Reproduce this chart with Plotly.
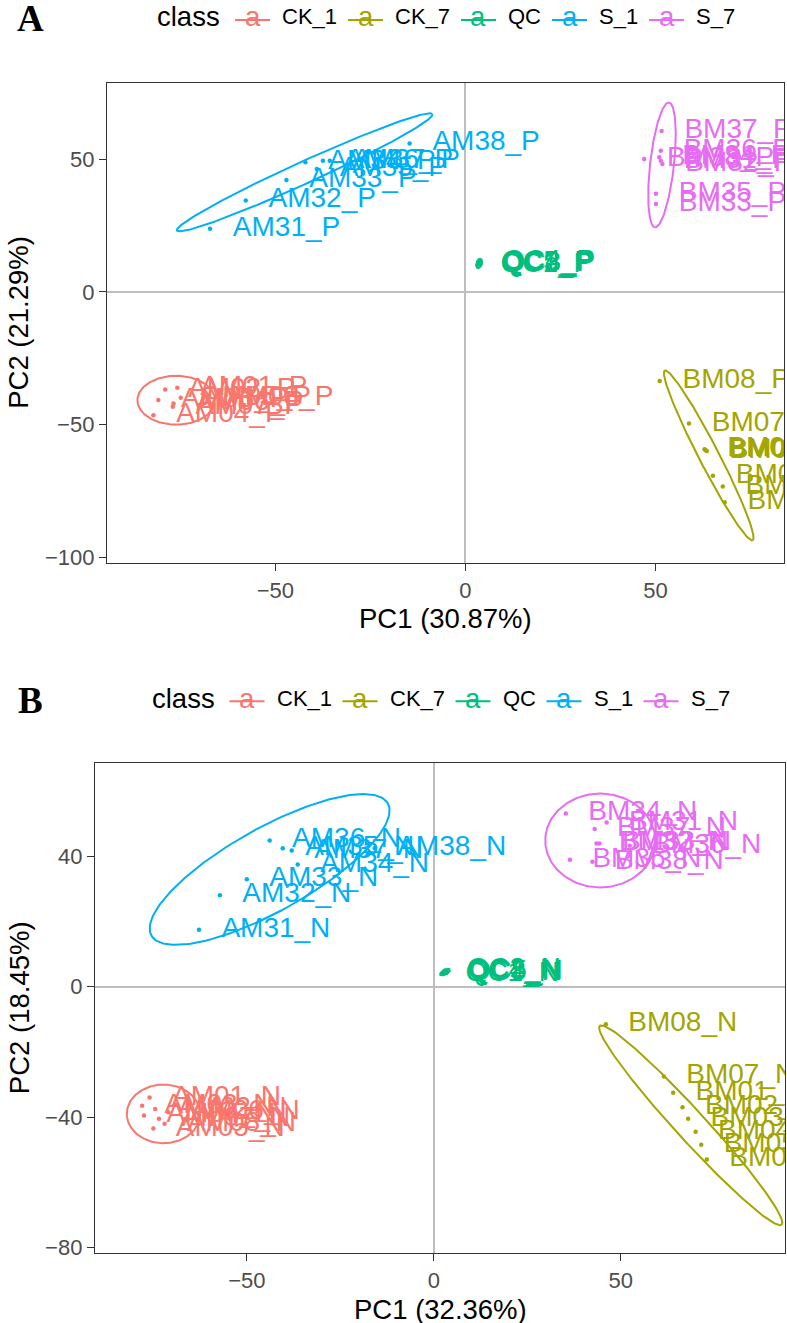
import numpy as np
import plotly.graph_objects as go

W, H = 787, 1323
FONT = "Liberation Sans, Arial, Helvetica, sans-serif"

class_names = ["CK_1", "CK_7", "QC", "S_1", "S_7"]
class_colors = ["#F8766D", "#A3A500", "#00BF7D", "#00B0F6", "#E76BF3"]

# ---------------- Panel A (positive mode, _P) ----------------
a_ck1_lab = ["AM01_P", "AM02_P", "AM03_P", "AM04_P", "AM05_P", "AM06_P", "AM07_P", "AM08_P"]
a_ck1_x = [-75.8, -79.0, -80.8, -82.1, -74.9, -76.8, -77.0, -69.0]
a_ck1_y = [-36.1, -36.8, -40.7, -46.5, -39.9, -42.0, -43.3, -39.9]

a_ck7_lab = ["BM01_P", "BM02_P", "BM03_P", "BM04_P", "BM05_P", "BM06_P", "BM07_P", "BM08_P"]
a_ck7_x = [63.2, 63.5, 62.9, 65.1, 67.7, 68.2, 58.8, 51.1]
a_ck7_y = [-59.6, -59.9, -59.3, -69.2, -73.3, -79.2, -49.6, -33.6]

a_qc_lab = ["QC1_P", "QC2_P", "QC3_P", "QC4_P", "QC5_P"]
a_qc_x = [3.2, 3.6, 4.0, 3.9, 3.4]
a_qc_y = [10.2, 10.9, 10.5, 11.2, 10.8]

a_s1_lab = ["AM31_P", "AM32_P", "AM33_P", "AM34_P", "AM35_P", "AM36_P", "AM37_P", "AM38_P"]
a_s1_x = [-67.2, -57.8, -47.1, -42.1, -39.1, -37.5, -35.7, -14.7]
a_s1_y = [23.8, 34.4, 42.1, 48.8, 46.3, 49.4, 49.4, 55.9]

a_s7_lab = ["BM31_P", "BM32_P", "BM33_P", "BM34_P", "BM35_P", "BM36_P", "BM37_P", "BM38_P"]
a_s7_x = [51.4, 51.8, 50.1, 51.0, 50.1, 51.4, 51.6, 47.0]
a_s7_y = [49.4, 48.1, 33.1, 50.7, 36.9, 53.1, 60.6, 50.0]

# ellipse: centre x, centre y, semi-axis 1 (dx, dy), semi-axis 2 (dx, dy)
a_ell_ck1 = [-76.1, -40.8, 10.2, 0.0, 0.0, 9.2]
a_ell_ck7 = [64.0, -61.6, 11.55, -31.95, 2.34, 1.72]
a_ell_qc = [3.6, 10.7, 0.3, 1.8, 0.7, -0.1]
a_ell_s1 = [-42.3, 45.0, 33.6, 21.9, 1.19, -3.75]
a_ell_s7 = [51.7, 47.8, 1.84, 23.5, 3.12, -0.5]

# ---------------- Panel B (negative mode, _N) ----------------
b_ck1_lab = ["AM01_N", "AM02_N", "AM03_N", "AM04_N", "AM05_N", "AM06_N", "AM07_N", "AM08_N"]
b_ck1_x = [-76.0, -74.5, -78.0, -77.5, -75.0, -71.0, -73.5, -72.0]
b_ck1_y = [-34.0, -37.5, -36.5, -39.5, -43.5, -38.5, -40.5, -42.0]

b_ck7_lab = ["BM01_N", "BM02_N", "BM03_N", "BM04_N", "BM05_N", "BM06_N", "BM07_N", "BM08_N"]
b_ck7_x = [64.0, 66.5, 68.0, 70.0, 71.5, 73.0, 61.5, 46.0]
b_ck7_y = [-32.5, -37.0, -40.5, -44.5, -48.5, -53.0, -27.5, -11.5]

b_qc_lab = ["QC1_N", "QC2_N", "QC3_N", "QC4_N", "QC5_N"]
b_qc_x = [2.5, 3.0, 3.3, 2.8, 3.5]
b_qc_y = [4.0, 5.0, 4.3, 4.7, 4.5]

b_s1_lab = ["AM31_N", "AM32_N", "AM33_N", "AM34_N", "AM35_N", "AM36_N", "AM37_N", "AM38_N"]
b_s1_x = [-62.8, -57.2, -50.0, -36.4, -40.4, -43.9, -38.0, -15.8]
b_s1_y = [17.5, 28.1, 33.0, 37.5, 42.5, 44.9, 41.8, 42.5]

b_s7_lab = ["BM31_N", "BM32_N", "BM33_N", "BM34_N", "BM35_N", "BM36_N", "BM37_N", "BM38_N"]
b_s7_x = [46.2, 43.5, 44.3, 35.3, 36.4, 52.4, 43.0, 42.4]
b_s7_y = [50.4, 44.0, 44.0, 53.2, 39.0, 43.3, 48.4, 38.4]

b_ell_ck1 = [-72.3, -39.0, 9.8, 0.0, 0.0, 9.0]
b_ell_ck7 = [68.7, -42.5, 24.3, -30.5, 2.97, 3.08]
b_ell_qc = [3.0, 4.5, 1.3, 0.8, 0.3, -0.6]
b_ell_s1 = [-43.9, 36.0, 31.6, 20.3, 5.5, -11.1]
b_ell_s7 = [44.5, 44.9, 14.7, 0.0, 0.0, 14.4]

# axis text
a_xtitle, a_ytitle = "PC1 (30.87%)", "PC2 (21.29%)"
b_xtitle, b_ytitle = "PC1 (32.36%)", "PC2 (18.45%)"
a_xticks = [-50, 0, 50]
a_yticks = [-100, -50, 0, 50]
b_xticks = [-50, 0, 50]
b_yticks = [-80, -40, 0, 40]

NUDGE = 6.0  # label offset in PC1 units (like nudge_x)

panels = [
    dict(
        xa="x", ya="y",
        groups=[(a_ck1_x, a_ck1_y, a_ck1_lab, a_ell_ck1),
                (a_ck7_x, a_ck7_y, a_ck7_lab, a_ell_ck7),
                (a_qc_x, a_qc_y, a_qc_lab, a_ell_qc),
                (a_s1_x, a_s1_y, a_s1_lab, a_ell_s1),
                (a_s7_x, a_s7_y, a_s7_lab, a_ell_s7)],
    ),
    dict(
        xa="x2", ya="y2",
        groups=[(b_ck1_x, b_ck1_y, b_ck1_lab, b_ell_ck1),
                (b_ck7_x, b_ck7_y, b_ck7_lab, b_ell_ck7),
                (b_qc_x, b_qc_y, b_qc_lab, b_ell_qc),
                (b_s1_x, b_s1_y, b_s1_lab, b_ell_s1),
                (b_s7_x, b_s7_y, b_s7_lab, b_ell_s7)],
    ),
]

fig = go.Figure()
t = np.linspace(0, 2 * np.pi, 200)
for p in panels:
    for (xs, ys, labs, ell), col in zip(p["groups"], class_colors):
        cx, cy, ax_, ay_, bx_, by_ = ell
        ex = cx + ax_ * np.cos(t) + bx_ * np.sin(t)
        ey = cy + ay_ * np.cos(t) + by_ * np.sin(t)
        fig.add_trace(go.Scatter(x=ex, y=ey, mode="lines", line=dict(color=col, width=2),
                                 xaxis=p["xa"], yaxis=p["ya"], showlegend=False, hoverinfo="skip"))
        fig.add_trace(go.Scatter(x=xs, y=ys, mode="markers", marker=dict(color=col, size=4.5),
                                 xaxis=p["xa"], yaxis=p["ya"], showlegend=False))
        fig.add_trace(go.Scatter(x=[v + NUDGE for v in xs], y=ys, mode="text", text=labs,
                                 textposition="middle right",
                                 textfont=dict(family=FONT, size=28, color=col),
                                 xaxis=p["xa"], yaxis=p["ya"], showlegend=False))


def px_x(v):
    return v / W


def px_y(v):
    return 1 - v / H


axis_common = dict(
    showgrid=False, zeroline=True, zerolinecolor="#BEBEBE", zerolinewidth=2,
    showline=True, mirror=True, linecolor="#333333", linewidth=1.3,
    ticks="outside", ticklen=7, tickwidth=1.3, tickcolor="#333333",
    tickfont=dict(family=FONT, size=22, color="#4D4D4D"),
)


def ticktext(vals):
    return [("\u2212" + str(abs(v))) if v < 0 else str(v) for v in vals]


# panel pixel boxes (left, right, top, bottom)
A_box = (107, 784, 83, 566)
B_box = (95, 785, 767, 1260)
A_rng = ([-94.3, 83.8], [-102.1, 78.8])
B_rng = ([-90.6, 93.9], [-81.8, 68.7])

fig.update_layout(
    xaxis=dict(domain=[px_x(A_box[0]), px_x(A_box[1])], range=A_rng[0], anchor="y",
               tickvals=a_xticks, ticktext=ticktext(a_xticks), **axis_common),
    yaxis=dict(domain=[px_y(A_box[3]), px_y(A_box[2])], range=A_rng[1], anchor="x",
               tickvals=a_yticks, ticktext=ticktext(a_yticks), **axis_common),
    xaxis2=dict(domain=[px_x(B_box[0]), px_x(B_box[1])], range=B_rng[0], anchor="y2",
                tickvals=b_xticks, ticktext=ticktext(b_xticks), **axis_common),
    yaxis2=dict(domain=[px_y(B_box[3]), px_y(B_box[2])], range=B_rng[1], anchor="x2",
                tickvals=b_yticks, ticktext=ticktext(b_yticks), **axis_common),
)

annotations = []
shapes = []


def txt(x, y, s, size, color="black", xanchor="center", family=FONT, angle=0, weight="normal"):
    annotations.append(dict(x=px_x(x), y=px_y(y), xref="paper", yref="paper", text=s,
                            showarrow=False, xanchor=xanchor, yanchor="middle", textangle=angle,
                            font=dict(family=family, size=size, color=color, weight=weight)))


for off, box, letter, xt, yt in [(0, A_box, "A", a_xtitle, a_ytitle), (685, B_box, "B", b_xtitle, b_ytitle)]:
    # panel letter
    txt(30, 19 + off, letter, 37, family="Liberation Serif, Times New Roman, serif", weight="bold")
    # axis titles
    txt((box[0] + box[1]) / 2, box[3] + 56, xt, 27.5)
    txt(19, (box[2] + box[3]) / 2, yt, 27.5, angle=-90)
    # legend
    shift = -5.5 if off else 0
    ly = 17 + off
    txt(155 + shift, ly, "class", 27.5, xanchor="left")
    key_starts = [235, 348, 461, 552, 649]
    for ks, name, col in zip(key_starts, class_names, class_colors):
        k0 = ks + shift
        shapes.append(dict(type="line", xref="paper", yref="paper",
                           x0=px_x(k0), x1=px_x(k0 + 35), y0=px_y(ly + 3), y1=px_y(ly + 3),
                           line=dict(color=col, width=2)))
        txt(k0 + 17.5, ly, "a", 27.5, color=col)
        txt(k0 + 45, ly, name, 22, xanchor="left")

fig.update_layout(
    annotations=annotations, shapes=shapes,
    width=W, height=H, margin=dict(l=0, r=0, t=0, b=0),
    paper_bgcolor="white", plot_bgcolor="white",
    font=dict(family=FONT), showlegend=False,
)

fig.write_html("out.html", config={"displayModeBar": False},
               post_script="document.body.style.margin='0';document.body.style.overflow='hidden';")
